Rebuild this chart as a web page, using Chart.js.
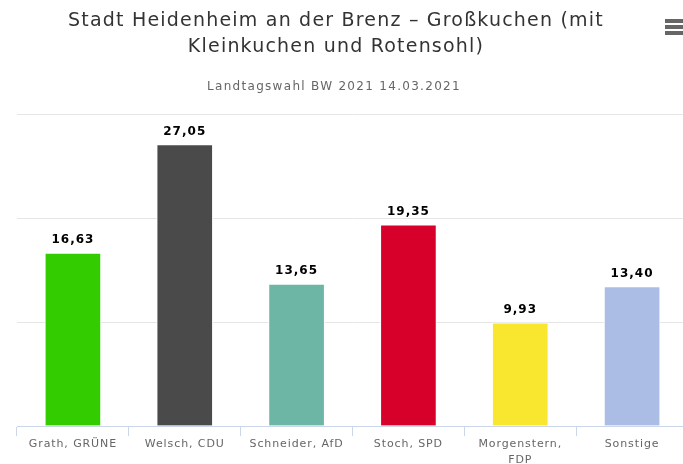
<!DOCTYPE html>
<html>
<head>
<meta charset="utf-8">
<script src="https://cdn.jsdelivr.net/npm/chart.js@4"></script>
<style>
    html, body { margin: 0; padding: 0; background: #fff; }
    #wrap { position: relative; width: 683px; height: 464px; overflow: hidden; }
    #menu { position: absolute; left: 665px; top: 19px; width: 18px; }
    #menu div { height: 4px; background: #666; margin-bottom: 2px; }
</style>
</head>
<body>
<div id="wrap">
    <canvas id="chart" width="700" height="480"></canvas>
    <div id="menu"><div></div><div></div><div></div></div>
</div>
<script>
const titleLines = ['Stadt Heidenheim an der Brenz – Großkuchen (mit', 'Kleinkuchen und Rotensohl)'];
const subtitle = 'Landtagswahl BW 2021 14.03.2021';
const categories = ['Grath, GRÜNE', 'Welsch, CDU', 'Schneider, AfD', 'Stoch, SPD', ['Morgenstern,', 'FDP'], 'Sonstige'];
const shares = [16.63, 27.05, 13.65, 19.35, 9.93, 13.40];
const barColors = ['#33cc00', '#4a4a4a', '#6db5a5', '#d7002b', '#f9e72f', '#abbde4'];

// a bit of tracking for the axis labels (the original font runs wide)
const spacing = {
    id: 'spacing',
    beforeDraw(chart) {
        chart.ctx.letterSpacing = '0.9px';
    }
};

// title + subtitle drawn by hand so they sit where the original puts them
const headerPlugin = {
    id: 'header',
    afterDraw(chart) {
        const ctx = chart.ctx;
        ctx.save();
        ctx.textAlign = 'center';
        ctx.textBaseline = 'middle';
        ctx.fillStyle = '#333333';
        ctx.font = '19px "DejaVu Sans"';
        ctx.letterSpacing = '1.2px';
        ctx.fillText(titleLines[0], 336, 21);
        ctx.fillText(titleLines[1], 336, 47);
        ctx.fillStyle = '#666666';
        ctx.font = '12px "DejaVu Sans"';
        ctx.letterSpacing = '1.3px';
        ctx.fillText(subtitle, 334, 87);
        ctx.restore();
    }
};

// value labels above each bar, German decimal comma
const valueLabels = {
    id: 'valueLabels',
    afterDatasetsDraw(chart) {
        const ctx = chart.ctx;
        const meta = chart.getDatasetMeta(0);
        ctx.save();
        ctx.textAlign = 'center';
        ctx.textBaseline = 'middle';
        ctx.fillStyle = '#000000';
        ctx.font = 'bold 12px "DejaVu Sans"';
        ctx.letterSpacing = '1px';
        meta.data.forEach((bar, i) => {
            const txt = shares[i].toFixed(2).replace('.', ',');
            ctx.fillText(txt, bar.x, bar.y - 13);
        });
        ctx.restore();
    }
};

new Chart(document.getElementById('chart'), {
    type: 'bar',
    data: {
        labels: categories,
        datasets: [{
            data: shares,
            backgroundColor: barColors,
            borderColor: '#ffffff',
            borderWidth: 1,
            barThickness: 56
        }]
    },
    options: {
        responsive: false,
        devicePixelRatio: 1,
        animation: false,
        layout: { padding: { top: 114, right: 12, left: 0, bottom: 0 } },
        plugins: {
            legend: { display: false },
            tooltip: { enabled: false }
        },
        scales: {
            x: {
                afterFit: (scale) => { scale.height = 54; },
                grid: {
                    offset: true,
                    drawOnChartArea: false,
                    color: '#ccd6eb',
                    tickLength: 10
                },
                border: { color: '#ccd6eb' },
                ticks: {
                    color: '#666666',
                    font: { family: 'DejaVu Sans', size: 11, lineHeight: 1.45 },
                    padding: 0,
                    maxRotation: 0,
                    autoSkip: false
                }
            },
            y: {
                min: 0,
                max: 30,
                afterFit: (scale) => { scale.width = 17; },
                ticks: { display: false, stepSize: 10 },
                grid: { color: '#e6e6e6', drawTicks: false },
                border: { display: false }
            }
        }
    },
    plugins: [spacing, headerPlugin, valueLabels]
});
</script>
</body>
</html>
